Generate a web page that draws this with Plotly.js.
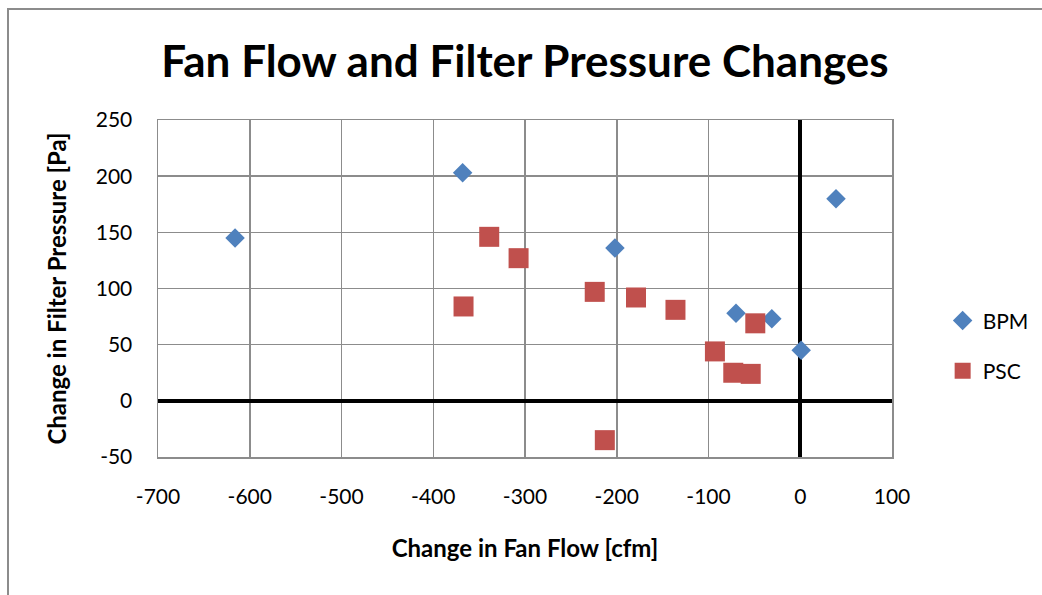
<!DOCTYPE html>
<html>
<head>
<meta charset="utf-8">
<script src="https://cdn.plot.ly/plotly-3.0.1.min.js"></script>
<style>
  html, body { margin: 0; padding: 0; background: #fff; }
  #chart { width: 1042px; height: 595px; position: relative; }
  #frame { position: absolute; left: 7px; top: 8px; width: 1040px; height: 600px; border: 2px solid #8c8c8c; box-sizing: border-box; pointer-events: none; }
</style>
</head>
<body>
<div id="chart"></div>
<div id="frame"></div>
<script>
const bpmX = [-616, -368, -202, -70, -31, 1, 39];
const bpmY = [145, 203, 136, 78, 73, 45, 180];
const pscX = [-367, -339, -307, -224, -179, -136, -93, -73, -54, -49, -213];
const pscY = [84, 146, 127, 97, 92, 81, 44, 25, 24, 69, -35];
const xTicks = [-700, -600, -500, -400, -300, -200, -100, 0, 100];
const yTicks = [-50, 0, 50, 100, 150, 200, 250];

const font = "Lato, 'Open Sans', sans-serif";

const traces = [
  { x: bpmX, y: bpmY, type: 'scatter', mode: 'markers', name: 'BPM', legendgroup: 'a',
    marker: { symbol: 'diamond', size: 15, color: '#4F81BD' } },
  { x: pscX, y: pscY, type: 'scatter', mode: 'markers', name: 'PSC', legendgroup: 'b',
    marker: { symbol: 'square', size: 20, color: '#C0504D' } }
];

const layout = {
  width: 1042, height: 595,
  margin: { l: 158, r: 150, t: 120, b: 138, autoexpand: false },
  paper_bgcolor: '#fff', plot_bgcolor: '#fff',
  font: { family: font, color: '#000' },
  title: { text: '<b>Fan Flow and Filter Pressure Changes</b>', font: { family: font, size: 44, color: '#000' },
           x: 0.5, xref: 'paper', xanchor: 'center', y: 0.896, yanchor: 'middle' },
  showlegend: true,
  legend: { x: 1.069, y: 0.33, xanchor: 'left', yanchor: 'middle', font: { family: font, size: 21 },
            tracegroupgap: 20, traceorder: 'grouped', bgcolor: 'rgba(0,0,0,0)' },
  xaxis: {
    range: [-700, 100], tickvals: xTicks, ticktext: xTicks.map(String),
    showgrid: true, gridcolor: '#8c8c8c', gridwidth: 1.5,
    zeroline: true, zerolinecolor: '#000', zerolinewidth: 4,
    showline: true, linecolor: '#8c8c8c', linewidth: 1.5, mirror: true,
    ticks: '', tickfont: { family: font, size: 21, color: '#000' }, ticklabelstandoff: 20,
    title: { text: '<b>Change in Fan Flow [cfm]</b>', font: { family: font, size: 24, color: '#000' }, standoff: 33 }
  },
  yaxis: {
    range: [-50, 250], tickvals: yTicks, ticktext: yTicks.map(String),
    showgrid: true, gridcolor: '#8c8c8c', gridwidth: 1.5,
    zeroline: true, zerolinecolor: '#000', zerolinewidth: 4,
    showline: true, linecolor: '#8c8c8c', linewidth: 1.5, mirror: true,
    ticks: '', tickfont: { family: font, size: 21, color: '#000' }, ticklabelstandoff: 20,
    title: { text: '<b>Change in Filter Pressure [Pa]</b>', font: { family: font, size: 24, color: '#000' }, standoff: 22 }
  }
};

Plotly.newPlot('chart', traces, layout, { displayModeBar: false, staticPlot: true });
</script>
</body>
</html>
